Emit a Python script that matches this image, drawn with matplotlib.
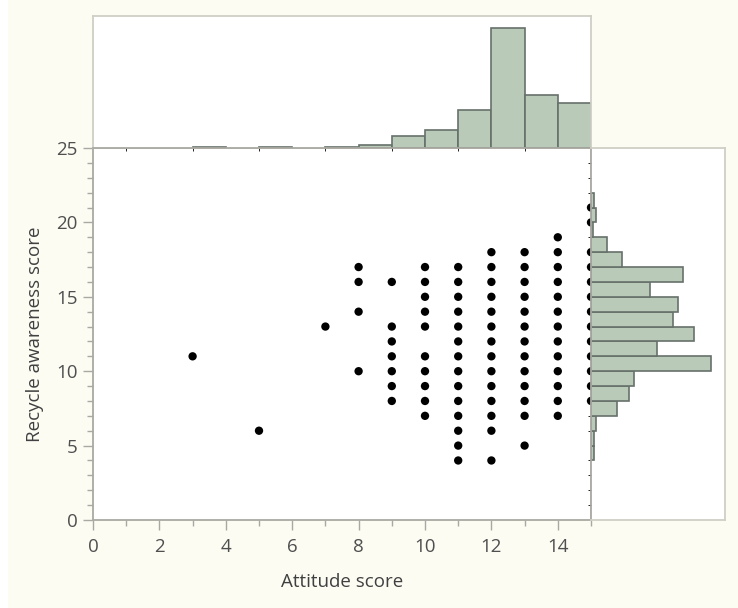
import matplotlib
matplotlib.use("Agg")
import matplotlib.pyplot as plt
from matplotlib.ticker import MultipleLocator
from matplotlib.patches import Rectangle

# ---------------- data ----------------
attitude = [3, 5, 7,
            8, 8, 8, 8,
            9, 9, 9, 9, 9, 9, 9,
            10, 10, 10, 10, 10, 10, 10, 10, 10, 10,
            11, 11, 11, 11, 11, 11, 11, 11, 11, 11, 11, 11, 11, 11,
            12, 12, 12, 12, 12, 12, 12, 12, 12, 12, 12, 12, 12, 12,
            13, 13, 13, 13, 13, 13, 13, 13, 13, 13, 13, 13, 13,
            14, 14, 14, 14, 14, 14, 14, 14, 14, 14, 14, 14, 14,
            15, 15, 15, 15, 15, 15, 15, 15, 15, 15, 15, 15, 15]
awareness = [11, 6, 13,
             17, 16, 14, 10,
             16, 13, 12, 11, 10, 9, 8,
             17, 16, 15, 14, 13, 11, 10, 9, 8, 7,
             17, 16, 15, 14, 13, 12, 11, 10, 9, 8, 7, 6, 5, 4,
             18, 17, 16, 15, 14, 13, 12, 11, 10, 9, 8, 7, 6, 4,
             18, 17, 16, 15, 14, 13, 12, 11, 10, 9, 8, 7, 5,
             19, 18, 17, 16, 15, 14, 13, 12, 11, 10, 9, 8, 7,
             21, 20, 18, 17, 16, 15, 14, 13, 12, 11, 10, 9, 8]

# histogram of attitude score (bins of width 1, left edges)
top_bins = [3, 5, 7, 8, 9, 10, 11, 12, 13, 14]
top_counts = [1, 1, 1, 5, 18, 27, 58, 185, 81, 70]

# histogram of recycle awareness score (bins of width 1, lower edges)
right_bins = [4, 5, 6, 7, 8, 9, 10, 11, 12, 13, 14, 15, 16, 17, 18, 19, 20, 21]
right_counts = [2, 2, 3, 15, 22, 25, 69, 38, 59, 47, 50, 34, 53, 18, 9, 1, 3, 2]

x_ticks = [0, 2, 4, 6, 8, 10, 12, 14]
y_ticks = [0, 5, 10, 15, 20, 25]
x_label = "Attitude score"
y_label = "Recycle awareness score"

# ---------------- style ----------------
plt.rcParams['font.family'] = ['Open Sans', 'DejaVu Sans']
BG = '#fcfcf3'
FRAME = '#cfcfc6'
AXIS = '#a9a9a2'
BAR_FACE = '#b9cab9'
BAR_EDGE = '#66716a'
TXT = '#4f4f4f'
FS = 13.5

W, H = 738, 608
fig = plt.figure(figsize=(W / 100, H / 100), dpi=100, facecolor=BG)
fig.patches.append(Rectangle((0, 0), 8 / W, 1, transform=fig.transFigure,
                             facecolor='white', edgecolor='none', zorder=0))

def fx(px):
    return px / W

def fy(py):
    return 1 - py / H

L, R = 93, 591
T_top, T_main, B_main = 16, 148, 520
R_right = 725

ax = fig.add_axes([fx(L), fy(B_main), fx(R) - fx(L), fy(T_main) - fy(B_main)])
ax_top = fig.add_axes([fx(L), fy(T_main), fx(R) - fx(L), fy(T_top) - fy(T_main)], sharex=ax)
ax_right = fig.add_axes([fx(R), fy(B_main), fx(R_right) - fx(R), fy(T_main) - fy(B_main)], sharey=ax)

for a in (ax, ax_top, ax_right):
    a.set_facecolor('white')
    for s in a.spines.values():
        s.set_color(FRAME)
        s.set_linewidth(1.3)

# main scatter
ax.scatter(attitude, awareness, s=36, color='black', edgecolors='none', zorder=3)
ax.set_xlim(0, 15)
ax.set_ylim(0, 25)
ax.set_xticks(x_ticks)
ax.set_yticks(y_ticks)
ax.xaxis.set_minor_locator(MultipleLocator(1))
ax.yaxis.set_minor_locator(MultipleLocator(1))
ax.tick_params(axis='both', which='major', length=7, width=1, color=AXIS,
               labelsize=FS, labelcolor=TXT)
ax.tick_params(axis='both', which='minor', length=4, width=1, color=AXIS)
ax.tick_params(axis='x', which='major', pad=6)
ax.tick_params(axis='y', which='major', pad=4)
ax.spines['left'].set_color(AXIS)
ax.spines['bottom'].set_color(AXIS)
ax.set_xlabel(x_label, fontsize=FS, color='#404040', labelpad=12)
ax.set_ylabel(y_label, fontsize=FS, color='#404040', labelpad=9)

# top histogram
ax_top.bar(top_bins, top_counts, width=1, align='edge', color=BAR_FACE,
           edgecolor=BAR_EDGE, linewidth=1.2, zorder=2)
ax_top.set_ylim(0, max(top_counts) * 132 / 120)
ax_top.tick_params(left=False, bottom=False, labelleft=False, labelbottom=False)
ax_top.spines['bottom'].set_color(AXIS)

# right histogram
ax_right.barh(right_bins, right_counts, height=1, align='edge', color=BAR_FACE,
              edgecolor=BAR_EDGE, linewidth=1.2, zorder=2)
ax_right.set_xlim(0, max(right_counts) * 134 / 120)
ax_right.tick_params(left=False, bottom=False, labelleft=False, labelbottom=False)
ax_right.spines['left'].set_color(AXIS)

fig.savefig('out.png', dpi=100, facecolor=BG)
